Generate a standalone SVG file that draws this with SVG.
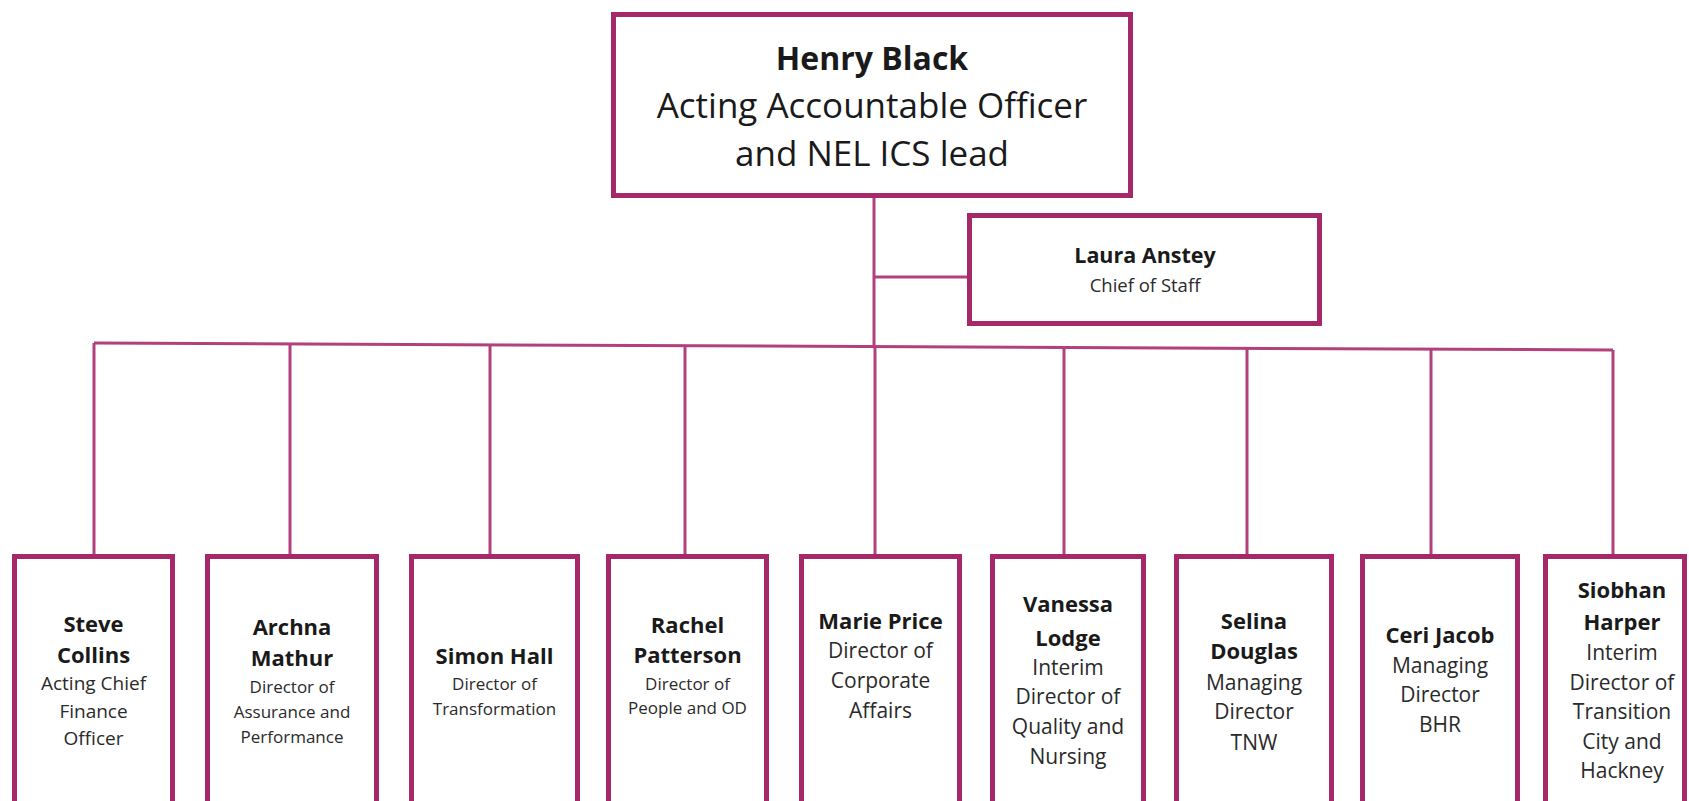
<svg xmlns="http://www.w3.org/2000/svg" width="1689" height="801" viewBox="0 0 1689 801">
<style>
.box{fill:#ffffff;stroke:#a52868;stroke-width:5}
.ln{fill:none;stroke:#b3407c;stroke-width:3}
text{font-family:"Open Sans","Noto Sans","Liberation Sans",sans-serif;fill:#1a1a1a;text-anchor:middle}
.nm{font-weight:bold;font-size:22px}
.r21{font-size:21px;fill:#2a2a2a}
.r19{font-size:19px;fill:#2a2a2a}
.r17{font-size:17px;fill:#2a2a2a}
</style>
<rect width="1689" height="801" fill="#ffffff"/>
<g id="connectors">
<line class="ln" x1="874" y1="196" x2="874" y2="346"/>
<line class="ln" x1="874" y1="277" x2="968" y2="277"/>
<line class="ln" x1="94" y1="343" x2="1613" y2="350"/>
<line class="ln" x1="94" y1="343" x2="94" y2="556"/>
<line class="ln" x1="290" y1="344" x2="290" y2="556"/>
<line class="ln" x1="490" y1="345" x2="490" y2="556"/>
<line class="ln" x1="685" y1="346" x2="685" y2="556"/>
<line class="ln" x1="1064" y1="347" x2="1064" y2="556"/>
<line class="ln" x1="1247" y1="348" x2="1247" y2="556"/>
<line class="ln" x1="1431" y1="349" x2="1431" y2="556"/>
<line class="ln" x1="1613" y1="350" x2="1613" y2="556"/>
<line class="ln" x1="875" y1="346" x2="875" y2="556"/>
</g>
<g id="henry-black">
<rect class="box" x="613.5" y="14.5" width="517" height="181"/>
<text x="872" y="70" style="font-weight:bold;font-size:32px">Henry Black</text>
<text x="872" y="118" style="font-size:35px">Acting Accountable Officer</text>
<text x="872" y="166" style="font-size:35px">and NEL ICS lead</text>
</g>
<g id="laura-anstey">
<rect class="box" x="969.5" y="215.5" width="350" height="108"/>
<text x="1145" y="263" style="font-weight:bold;font-size:21.5px">Laura Anstey</text>
<text x="1145" y="292" style="font-size:18.5px;fill:#2a2a2a">Chief of Staff</text>
</g>
<g id="steve-collins">
<rect class="box" x="14.5" y="556.5" width="158" height="260"/>
<text class="nm" x="93.5" y="632">Steve</text>
<text class="nm" x="93.5" y="663">Collins</text>
<text class="r19" x="93.5" y="690">Acting Chief</text>
<text class="r19" x="93.5" y="718">Finance</text>
<text class="r19" x="93.5" y="745">Officer</text>
</g>
<g id="archna-mathur">
<rect class="box" x="207.5" y="556.5" width="169" height="260"/>
<text class="nm" x="292" y="635">Archna</text>
<text class="nm" x="292" y="666">Mathur</text>
<text class="r17" x="292" y="693">Director of</text>
<text class="r17" x="292" y="718">Assurance and</text>
<text class="r17" x="292" y="743">Performance</text>
</g>
<g id="simon-hall">
<rect class="box" x="411.5" y="556.5" width="166" height="260"/>
<text class="nm" x="494.5" y="664">Simon Hall</text>
<text class="r17" x="494.5" y="690">Director of</text>
<text class="r17" x="494.5" y="715">Transformation</text>
</g>
<g id="rachel-patterson">
<rect class="box" x="608.5" y="556.5" width="158" height="260"/>
<text class="nm" x="687.5" y="633">Rachel</text>
<text class="nm" x="687.5" y="663">Patterson</text>
<text class="r17" x="687.5" y="690">Director of</text>
<text class="r17" x="687.5" y="714">People and OD</text>
</g>
<g id="marie-price">
<rect class="box" x="801.5" y="556.5" width="158" height="260"/>
<text class="nm" x="880.5" y="629">Marie Price</text>
<text class="r21" x="880.5" y="658">Director of</text>
<text class="r21" x="880.5" y="688">Corporate</text>
<text class="r21" x="880.5" y="718">Affairs</text>
</g>
<g id="vanessa-lodge">
<rect class="box" x="992.5" y="556.5" width="151" height="260"/>
<text class="nm" x="1068" y="612">Vanessa</text>
<text class="nm" x="1068" y="646">Lodge</text>
<text class="r21" x="1068" y="675">Interim</text>
<text class="r21" x="1068" y="704">Director of</text>
<text class="r21" x="1068" y="734">Quality and</text>
<text class="r21" x="1068" y="764">Nursing</text>
</g>
<g id="selina-douglas">
<rect class="box" x="1176.5" y="556.5" width="155" height="260"/>
<text class="nm" x="1254" y="629">Selina</text>
<text class="nm" x="1254" y="659">Douglas</text>
<text class="r21" x="1254" y="690">Managing</text>
<text class="r21" x="1254" y="719">Director</text>
<text class="r21" x="1254" y="750">TNW</text>
</g>
<g id="ceri-jacob">
<rect class="box" x="1362.5" y="556.5" width="155" height="260"/>
<text class="nm" x="1440" y="643">Ceri Jacob</text>
<text class="r21" x="1440" y="673">Managing</text>
<text class="r21" x="1440" y="702">Director</text>
<text class="r21" x="1440" y="732">BHR</text>
</g>
<g id="siobhan-harper">
<rect class="box" x="1545.5" y="556.5" width="139" height="260"/>
<text class="nm" x="1622" y="598">Siobhan</text>
<text class="nm" x="1622" y="630">Harper</text>
<text class="r21" x="1622" y="660">Interim</text>
<text class="r21" x="1622" y="690">Director of</text>
<text class="r21" x="1622" y="719">Transition</text>
<text class="r21" x="1622" y="749">City and</text>
<text class="r21" x="1622" y="778">Hackney</text>
</g>
</svg>
